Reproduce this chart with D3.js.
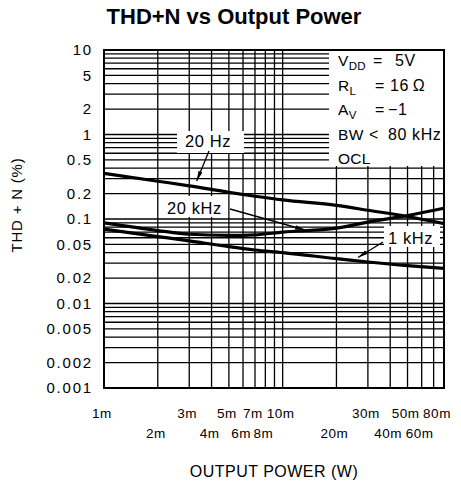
<!DOCTYPE html>
<html><head><meta charset="utf-8">
<script src="https://cdn.jsdelivr.net/npm/d3@7"></script>
<style>
html,body{margin:0;padding:0;background:#fff;}
svg{display:block;}
text{font-family:"Liberation Sans",Arial,sans-serif;fill:#000;}
</style></head>
<body>
<svg id="chart" width="461" height="486"></svg>
<script>
// ---- data ----
const power    = [0.001, 0.002, 0.003, 0.005, 0.007, 0.01, 0.02, 0.03, 0.05, 0.08];
const thd20Hz  = [0.347, 0.28, 0.247, 0.207, 0.186, 0.168, 0.145, 0.127, 0.107, 0.088];
const thd1kHz  = [0.076, 0.062, 0.055, 0.047, 0.043, 0.040, 0.034, 0.031, 0.028, 0.026];
const thd20kHz = [0.090, 0.073, 0.066, 0.064, 0.065, 0.070, 0.078, 0.092, 0.110, 0.134];

const xTickValsTop = [0.001, 0.003, 0.005, 0.007, 0.01, 0.03, 0.05, 0.08];
const xTickLabsTop = ["1m", "3m", "5m", "7m", "10m", "30m", "50m", "80m"];
const xTickValsBot = [0.002, 0.004, 0.006, 0.008, 0.02, 0.04, 0.06];
const xTickLabsBot = ["2m", "4m", "6m", "8m", "20m", "40m", "60m"];
const yTickVals = [10, 5, 2, 1, 0.5, 0.2, 0.1, 0.05, 0.02, 0.01, 0.005, 0.002, 0.001];
const yTickLabs = ["10", "5", "2", "1", "0.5", "0.2", "0.1", "0.05", "0.02", "0.01", "0.005", "0.002", "0.001"];

const legendMain = ["V", "R", "A", "BW", "OCL"];
const legendSub  = ["DD", "L", "V", "", ""];
const legendOp   = ["=", "=", "=", "<", ""];
const legendVal  = ["5V", "16\u2009\u03A9", "\u22121", "80 kHz", ""];

const titleText = "THD+N vs Output Power";
const xTitle = "OUTPUT POWER (W)";
const yTitle = "THD + N (%)";

// ---- layout ----
const L = 104, R = 444, T = 50, B = 388;
const svg = d3.select("#chart");
const x = d3.scaleLog().domain([0.001, 0.08]).range([L, R]);
const y = d3.scaleLog().domain([0.001, 10]).range([B, T]);

// grid values
const xGrid = [];
[0.001, 0.01].forEach(d => { for (let k = 1; k <= 9; k++) { const v = d * k; if (v <= 0.0800001) xGrid.push(v); } });
const yGrid = [];
[0.001, 0.01, 0.1, 1].forEach(d => { for (let k = 1; k <= 9; k++) yGrid.push(d * k); });
yGrid.push(10);

const g = svg.append("g");
g.selectAll("line.vg").data(xGrid).join("line")
  .attr("x1", d => x(d)).attr("x2", d => x(d)).attr("y1", T).attr("y2", B)
  .attr("stroke", "#000").attr("stroke-width", 1.3);
g.selectAll("line.hg").data(yGrid).join("line")
  .attr("y1", d => y(d)).attr("y2", d => y(d)).attr("x1", L).attr("x2", R)
  .attr("stroke", "#000").attr("stroke-width", 1.3);

// legend box (white, hides grid)
svg.append("rect").attr("x", 329).attr("y", T).attr("width", R - 329).attr("height", 116)
  .attr("fill", "#fff");

// curves
const line = d3.line().x(d => x(d[0])).y(d => y(d[1])).curve(d3.curveMonotoneX);
[thd20Hz, thd1kHz, thd20kHz].forEach(s => {
  svg.append("path").attr("d", line(power.map((p, i) => [p, s[i]])))
    .attr("fill", "none").attr("stroke", "#000").attr("stroke-width", 3.2)
    .attr("stroke-linejoin", "round");
});

// border
svg.append("rect").attr("x", L).attr("y", T).attr("width", R - L).attr("height", B - T)
  .attr("fill", "none").attr("stroke", "#000").attr("stroke-width", 2);

// arrow marker
svg.append("defs").append("marker").attr("id", "arr")
  .attr("viewBox", "0 0 10 6").attr("refX", 10).attr("refY", 3)
  .attr("markerWidth", 10).attr("markerHeight", 6).attr("markerUnits", "userSpaceOnUse")
  .attr("orient", "auto")
  .append("path").attr("d", "M0,0.8 L10,3 L0,5.2 Z").attr("fill", "#000");

// curve labels
const labels = [
  {t: "20 Hz",  rx: 177, ry: 131, rw: 67, rh: 22, tx: 185, ty: 147, a: [209, 151, 196.7, 181]},
  {t: "20 kHz", rx: 161, ry: 196, rw: 67, rh: 21, tx: 167, ty: 214, a: [230, 209, 305, 230]},
  {t: "1 kHz",  rx: 384, ry: 226, rw: 56, rh: 21, tx: 388, ty: 244, a: [383, 242, 358, 257.5]}
];
labels.forEach(l => {
  svg.append("rect").attr("x", l.rx).attr("y", l.ry).attr("width", l.rw).attr("height", l.rh).attr("fill", "#fff");
  svg.append("text").attr("x", l.tx).attr("y", l.ty).attr("font-size", 16.5).attr("letter-spacing", 0.6).text(l.t);
  svg.append("line").attr("x1", l.a[0]).attr("y1", l.a[1]).attr("x2", l.a[2]).attr("y2", l.a[3])
    .attr("stroke", "#000").attr("stroke-width", 1.3).attr("marker-end", "url(#arr)");
});

// legend text
const legBase = [65.5, 90.5, 115, 139.5, 164];
const legOpX = [373, 375, 375, 369];
const legValX = [395, 390, 388, 388];
legendMain.forEach((m, i) => {
  const t = svg.append("text").attr("x", 338).attr("y", legBase[i]).attr("font-size", 15.5).attr("letter-spacing", 0.3);
  t.append("tspan").text(m);
  if (legendSub[i]) t.append("tspan").attr("font-size", 11.5).attr("dy", 4).text(legendSub[i]);
  if (legendOp[i]) svg.append("text").attr("x", legOpX[i]).attr("y", legBase[i]).attr("font-size", 16).text(legendOp[i]);
  if (legendVal[i]) svg.append("text").attr("x", legValX[i]).attr("y", legBase[i]).attr("font-size", 16).attr("letter-spacing", 0.6).text(legendVal[i]);
});

// y tick labels
svg.selectAll("text.yt").data(yTickVals).join("text")
  .attr("x", 93).attr("y", d => y(d)).attr("dy", "0.36em")
  .attr("text-anchor", "end").attr("font-size", 15).attr("letter-spacing", 1.8)
  .text((d, i) => yTickLabs[i]);

// x tick labels
svg.selectAll("text.xt1").data(xTickValsTop).join("text")
  .attr("x", (d, i) => x(d) - (i === xTickValsTop.length - 1 ? 7 : 2)).attr("y", 418)
  .attr("text-anchor", "middle").attr("font-size", 13.5).attr("letter-spacing", 0.5)
  .text((d, i) => xTickLabsTop[i]);
svg.selectAll("text.xt2").data(xTickValsBot).join("text")
  .attr("x", d => x(d) - 2).attr("y", 438)
  .attr("text-anchor", "middle").attr("font-size", 13.5).attr("letter-spacing", 0.5)
  .text((d, i) => xTickLabsBot[i]);

// titles
svg.append("text").attr("x", 234).attr("y", 24).attr("text-anchor", "middle")
  .attr("font-size", 22).attr("font-weight", "bold").attr("fill", "#222").text(titleText);
svg.append("text").attr("x", 274).attr("y", 477).attr("text-anchor", "middle")
  .attr("font-size", 16).attr("letter-spacing", 0.5).text(xTitle);
svg.append("text").attr("transform", "translate(22,205) rotate(-90)").attr("text-anchor", "middle")
  .attr("font-size", 15).attr("letter-spacing", 0.8).text(yTitle);
</script>
</body></html>
